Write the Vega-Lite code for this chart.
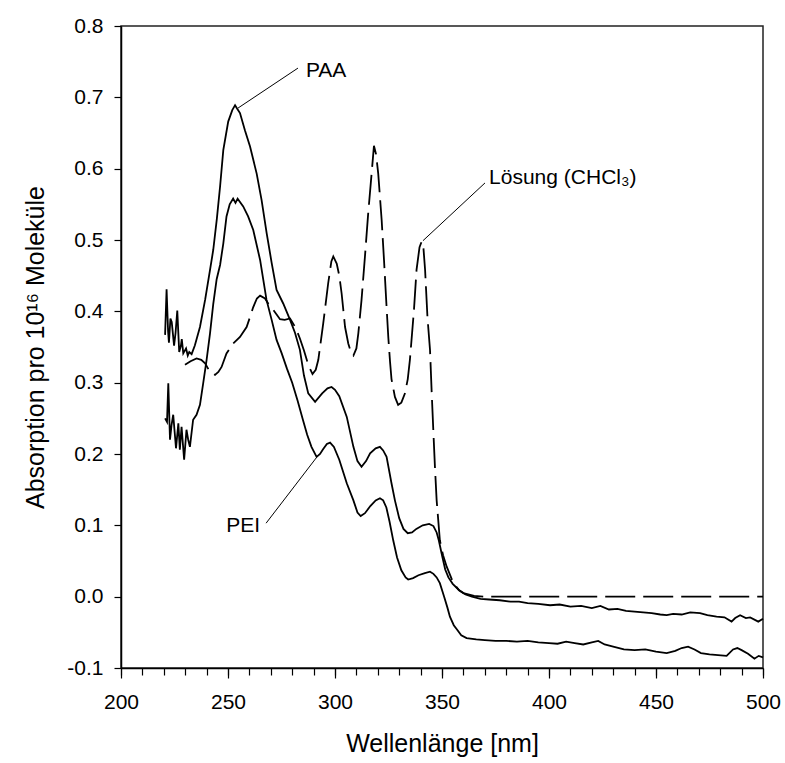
{
  "$schema": "https://vega.github.io/schema/vega-lite/v6.json",
  "width": 642,
  "height": 642,
  "autosize": {"type": "none"},
  "padding": {"left": 121, "top": 26, "right": 22, "bottom": 95},
  "background": "white",
  "config": {
    "font": "Liberation Sans",
    "view": {"stroke": "#222222", "strokeWidth": 1.5},
    "axis": {"domainColor": "black", "tickColor": "black", "labelColor": "black", "titleColor": "black", "grid": false, "labelFont": "Liberation Sans", "titleFont": "Liberation Sans", "titleFontWeight": "normal", "domainWidth": 1.5, "tickWidth": 1.2}
  },
  "datasets": {
    "curves": [
      {"s": "PAA", "nm": 220.6, "a": 0.367}, {"s": "PAA", "nm": 221.3, "a": 0.431}, {"s": "PAA", "nm": 222.0, "a": 0.372}, {"s": "PAA", "nm": 222.4, "a": 0.356}, {"s": "PAA", "nm": 223.1, "a": 0.39}, {"s": "PAA", "nm": 223.7, "a": 0.385}, {"s": "PAA", "nm": 224.8, "a": 0.352}, {"s": "PAA", "nm": 225.5, "a": 0.37}, {"s": "PAA", "nm": 226.3, "a": 0.401}, {"s": "PAA", "nm": 227.2, "a": 0.343}, {"s": "PAA", "nm": 228.0, "a": 0.352}, {"s": "PAA", "nm": 228.4, "a": 0.361}, {"s": "PAA", "nm": 229.1, "a": 0.341}, {"s": "PAA", "nm": 230.4, "a": 0.348}, {"s": "PAA", "nm": 231.2, "a": 0.338}, {"s": "PAA", "nm": 231.9, "a": 0.343}, {"s": "PAA", "nm": 233.0, "a": 0.34}, {"s": "PAA", "nm": 234.5, "a": 0.352}, {"s": "PAA", "nm": 236.9, "a": 0.378}, {"s": "PAA", "nm": 239.3, "a": 0.416}, {"s": "PAA", "nm": 241.6, "a": 0.458}, {"s": "PAA", "nm": 243.1, "a": 0.486}, {"s": "PAA", "nm": 244.8, "a": 0.53}, {"s": "PAA", "nm": 246.3, "a": 0.575}, {"s": "PAA", "nm": 247.8, "a": 0.626}, {"s": "PAA", "nm": 250.1, "a": 0.666}, {"s": "PAA", "nm": 252.0, "a": 0.682}, {"s": "PAA", "nm": 253.3, "a": 0.689}, {"s": "PAA", "nm": 254.3, "a": 0.684}, {"s": "PAA", "nm": 255.6, "a": 0.678}, {"s": "PAA", "nm": 257.9, "a": 0.654}, {"s": "PAA", "nm": 260.3, "a": 0.631}, {"s": "PAA", "nm": 263.4, "a": 0.593}, {"s": "PAA", "nm": 265.7, "a": 0.556}, {"s": "PAA", "nm": 268.1, "a": 0.509}, {"s": "PAA", "nm": 270.4, "a": 0.468}, {"s": "PAA", "nm": 272.7, "a": 0.43}, {"s": "PAA", "nm": 275.8, "a": 0.411}, {"s": "PAA", "nm": 279.0, "a": 0.388}, {"s": "PAA", "nm": 281.3, "a": 0.37}, {"s": "PAA", "nm": 283.6, "a": 0.346}, {"s": "PAA", "nm": 285.5, "a": 0.31}, {"s": "PAA", "nm": 287.5, "a": 0.285}, {"s": "PAA", "nm": 290.7, "a": 0.273}, {"s": "PAA", "nm": 294.0, "a": 0.285}, {"s": "PAA", "nm": 296.5, "a": 0.292}, {"s": "PAA", "nm": 298.4, "a": 0.294}, {"s": "PAA", "nm": 300.0, "a": 0.29}, {"s": "PAA", "nm": 302.0, "a": 0.281}, {"s": "PAA", "nm": 305.5, "a": 0.252}, {"s": "PAA", "nm": 308.6, "a": 0.21}, {"s": "PAA", "nm": 310.5, "a": 0.19}, {"s": "PAA", "nm": 312.4, "a": 0.182}, {"s": "PAA", "nm": 314.5, "a": 0.19}, {"s": "PAA", "nm": 316.4, "a": 0.201}, {"s": "PAA", "nm": 319.0, "a": 0.208}, {"s": "PAA", "nm": 321.0, "a": 0.21}, {"s": "PAA", "nm": 322.5, "a": 0.205}, {"s": "PAA", "nm": 324.1, "a": 0.196}, {"s": "PAA", "nm": 326.4, "a": 0.159}, {"s": "PAA", "nm": 328.0, "a": 0.135}, {"s": "PAA", "nm": 330.0, "a": 0.11}, {"s": "PAA", "nm": 332.0, "a": 0.095}, {"s": "PAA", "nm": 334.0, "a": 0.089}, {"s": "PAA", "nm": 336.0, "a": 0.09}, {"s": "PAA", "nm": 338.0, "a": 0.095}, {"s": "PAA", "nm": 341.0, "a": 0.1}, {"s": "PAA", "nm": 344.0, "a": 0.102}, {"s": "PAA", "nm": 346.0, "a": 0.099}, {"s": "PAA", "nm": 347.5, "a": 0.09}, {"s": "PAA", "nm": 348.5, "a": 0.079}, {"s": "PAA", "nm": 350.0, "a": 0.058}, {"s": "PAA", "nm": 351.5, "a": 0.038}, {"s": "PAA", "nm": 353.0, "a": 0.027}, {"s": "PAA", "nm": 355.0, "a": 0.018}, {"s": "PAA", "nm": 358.0, "a": 0.009}, {"s": "PAA", "nm": 361.0, "a": 0.003}, {"s": "PAA", "nm": 364.0, "a": 0.0}, {"s": "PAA", "nm": 368.0, "a": -0.003}, {"s": "PAA", "nm": 372.0, "a": -0.004}, {"s": "PAA", "nm": 377.0, "a": -0.005}, {"s": "PAA", "nm": 382.0, "a": -0.007}, {"s": "PAA", "nm": 386.0, "a": -0.007}, {"s": "PAA", "nm": 390.0, "a": -0.009}, {"s": "PAA", "nm": 395.0, "a": -0.01}, {"s": "PAA", "nm": 400.5, "a": -0.012}, {"s": "PAA", "nm": 405.0, "a": -0.011}, {"s": "PAA", "nm": 410.0, "a": -0.014}, {"s": "PAA", "nm": 415.0, "a": -0.013}, {"s": "PAA", "nm": 420.0, "a": -0.016}, {"s": "PAA", "nm": 424.0, "a": -0.013}, {"s": "PAA", "nm": 428.0, "a": -0.018}, {"s": "PAA", "nm": 432.0, "a": -0.017}, {"s": "PAA", "nm": 436.0, "a": -0.02}, {"s": "PAA", "nm": 440.0, "a": -0.021}, {"s": "PAA", "nm": 444.0, "a": -0.022}, {"s": "PAA", "nm": 448.0, "a": -0.023}, {"s": "PAA", "nm": 452.0, "a": -0.025}, {"s": "PAA", "nm": 455.0, "a": -0.026}, {"s": "PAA", "nm": 458.0, "a": -0.024}, {"s": "PAA", "nm": 462.0, "a": -0.025}, {"s": "PAA", "nm": 466.0, "a": -0.022}, {"s": "PAA", "nm": 470.6, "a": -0.023}, {"s": "PAA", "nm": 474.0, "a": -0.026}, {"s": "PAA", "nm": 478.3, "a": -0.028}, {"s": "PAA", "nm": 482.0, "a": -0.029}, {"s": "PAA", "nm": 485.3, "a": -0.035}, {"s": "PAA", "nm": 487.0, "a": -0.03}, {"s": "PAA", "nm": 489.3, "a": -0.026}, {"s": "PAA", "nm": 492.0, "a": -0.03}, {"s": "PAA", "nm": 494.0, "a": -0.029}, {"s": "PAA", "nm": 497.8, "a": -0.035}, {"s": "PAA", "nm": 500.0, "a": -0.031},

      {"s": "PEI", "nm": 220.6, "a": 0.25}, {"s": "PEI", "nm": 221.5, "a": 0.245}, {"s": "PEI", "nm": 222.1, "a": 0.299}, {"s": "PEI", "nm": 222.9, "a": 0.22}, {"s": "PEI", "nm": 223.6, "a": 0.24}, {"s": "PEI", "nm": 224.4, "a": 0.255}, {"s": "PEI", "nm": 225.7, "a": 0.208}, {"s": "PEI", "nm": 226.8, "a": 0.243}, {"s": "PEI", "nm": 227.5, "a": 0.206}, {"s": "PEI", "nm": 228.3, "a": 0.238}, {"s": "PEI", "nm": 229.5, "a": 0.192}, {"s": "PEI", "nm": 230.6, "a": 0.234}, {"s": "PEI", "nm": 231.4, "a": 0.22}, {"s": "PEI", "nm": 232.2, "a": 0.21}, {"s": "PEI", "nm": 233.7, "a": 0.248}, {"s": "PEI", "nm": 235.3, "a": 0.255}, {"s": "PEI", "nm": 236.9, "a": 0.269}, {"s": "PEI", "nm": 238.4, "a": 0.299}, {"s": "PEI", "nm": 240.0, "a": 0.332}, {"s": "PEI", "nm": 241.6, "a": 0.369}, {"s": "PEI", "nm": 243.1, "a": 0.41}, {"s": "PEI", "nm": 244.7, "a": 0.445}, {"s": "PEI", "nm": 246.3, "a": 0.465}, {"s": "PEI", "nm": 247.8, "a": 0.495}, {"s": "PEI", "nm": 249.3, "a": 0.533}, {"s": "PEI", "nm": 250.8, "a": 0.55}, {"s": "PEI", "nm": 252.4, "a": 0.558}, {"s": "PEI", "nm": 253.5, "a": 0.552}, {"s": "PEI", "nm": 254.5, "a": 0.558}, {"s": "PEI", "nm": 257.1, "a": 0.547}, {"s": "PEI", "nm": 259.4, "a": 0.533}, {"s": "PEI", "nm": 261.8, "a": 0.514}, {"s": "PEI", "nm": 263.4, "a": 0.493}, {"s": "PEI", "nm": 265.0, "a": 0.472}, {"s": "PEI", "nm": 266.5, "a": 0.444}, {"s": "PEI", "nm": 268.0, "a": 0.416}, {"s": "PEI", "nm": 270.4, "a": 0.388}, {"s": "PEI", "nm": 272.7, "a": 0.36}, {"s": "PEI", "nm": 275.1, "a": 0.341}, {"s": "PEI", "nm": 277.5, "a": 0.32}, {"s": "PEI", "nm": 280.0, "a": 0.3}, {"s": "PEI", "nm": 282.5, "a": 0.275}, {"s": "PEI", "nm": 285.0, "a": 0.248}, {"s": "PEI", "nm": 287.0, "a": 0.227}, {"s": "PEI", "nm": 289.0, "a": 0.21}, {"s": "PEI", "nm": 291.4, "a": 0.196}, {"s": "PEI", "nm": 293.0, "a": 0.2}, {"s": "PEI", "nm": 294.5, "a": 0.207}, {"s": "PEI", "nm": 296.2, "a": 0.214}, {"s": "PEI", "nm": 297.7, "a": 0.216}, {"s": "PEI", "nm": 299.5, "a": 0.21}, {"s": "PEI", "nm": 302.0, "a": 0.192}, {"s": "PEI", "nm": 305.5, "a": 0.159}, {"s": "PEI", "nm": 308.6, "a": 0.135}, {"s": "PEI", "nm": 310.5, "a": 0.118}, {"s": "PEI", "nm": 312.0, "a": 0.113}, {"s": "PEI", "nm": 314.0, "a": 0.117}, {"s": "PEI", "nm": 316.5, "a": 0.127}, {"s": "PEI", "nm": 319.0, "a": 0.135}, {"s": "PEI", "nm": 321.0, "a": 0.138}, {"s": "PEI", "nm": 322.5, "a": 0.135}, {"s": "PEI", "nm": 324.0, "a": 0.125}, {"s": "PEI", "nm": 325.5, "a": 0.105}, {"s": "PEI", "nm": 327.2, "a": 0.079}, {"s": "PEI", "nm": 329.0, "a": 0.055}, {"s": "PEI", "nm": 331.0, "a": 0.037}, {"s": "PEI", "nm": 333.0, "a": 0.027}, {"s": "PEI", "nm": 334.2, "a": 0.024}, {"s": "PEI", "nm": 336.5, "a": 0.026}, {"s": "PEI", "nm": 339.0, "a": 0.03}, {"s": "PEI", "nm": 342.0, "a": 0.033}, {"s": "PEI", "nm": 344.4, "a": 0.035}, {"s": "PEI", "nm": 346.0, "a": 0.032}, {"s": "PEI", "nm": 347.5, "a": 0.027}, {"s": "PEI", "nm": 349.0, "a": 0.019}, {"s": "PEI", "nm": 351.0, "a": 0.0}, {"s": "PEI", "nm": 352.5, "a": -0.015}, {"s": "PEI", "nm": 353.7, "a": -0.028}, {"s": "PEI", "nm": 355.5, "a": -0.04}, {"s": "PEI", "nm": 357.0, "a": -0.046}, {"s": "PEI", "nm": 359.0, "a": -0.054}, {"s": "PEI", "nm": 361.5, "a": -0.058}, {"s": "PEI", "nm": 366.0, "a": -0.06}, {"s": "PEI", "nm": 370.0, "a": -0.061}, {"s": "PEI", "nm": 375.0, "a": -0.062}, {"s": "PEI", "nm": 380.0, "a": -0.062}, {"s": "PEI", "nm": 385.0, "a": -0.063}, {"s": "PEI", "nm": 390.0, "a": -0.062}, {"s": "PEI", "nm": 395.0, "a": -0.064}, {"s": "PEI", "nm": 400.0, "a": -0.065}, {"s": "PEI", "nm": 404.0, "a": -0.066}, {"s": "PEI", "nm": 408.0, "a": -0.063}, {"s": "PEI", "nm": 412.0, "a": -0.065}, {"s": "PEI", "nm": 416.0, "a": -0.067}, {"s": "PEI", "nm": 420.0, "a": -0.064}, {"s": "PEI", "nm": 423.0, "a": -0.062}, {"s": "PEI", "nm": 426.0, "a": -0.067}, {"s": "PEI", "nm": 430.0, "a": -0.07}, {"s": "PEI", "nm": 435.0, "a": -0.074}, {"s": "PEI", "nm": 440.0, "a": -0.075}, {"s": "PEI", "nm": 445.0, "a": -0.074}, {"s": "PEI", "nm": 450.0, "a": -0.077}, {"s": "PEI", "nm": 455.0, "a": -0.079}, {"s": "PEI", "nm": 459.0, "a": -0.076}, {"s": "PEI", "nm": 462.0, "a": -0.072}, {"s": "PEI", "nm": 465.0, "a": -0.07}, {"s": "PEI", "nm": 468.0, "a": -0.074}, {"s": "PEI", "nm": 471.0, "a": -0.079}, {"s": "PEI", "nm": 475.0, "a": -0.081}, {"s": "PEI", "nm": 479.0, "a": -0.082}, {"s": "PEI", "nm": 483.0, "a": -0.083}, {"s": "PEI", "nm": 486.0, "a": -0.074}, {"s": "PEI", "nm": 488.0, "a": -0.072}, {"s": "PEI", "nm": 490.0, "a": -0.075}, {"s": "PEI", "nm": 493.0, "a": -0.08}, {"s": "PEI", "nm": 496.0, "a": -0.087}, {"s": "PEI", "nm": 498.0, "a": -0.083}, {"s": "PEI", "nm": 500.0, "a": -0.085},

      {"s": "Lösung", "nm": 229.9, "a": 0.325}, {"s": "Lösung", "nm": 232.5, "a": 0.33}, {"s": "Lösung", "nm": 235.3, "a": 0.334}, {"s": "Lösung", "nm": 237.5, "a": 0.332}, {"s": "Lösung", "nm": 239.3, "a": 0.327}, {"s": "Lösung", "nm": 241.6, "a": 0.315}, {"s": "Lösung", "nm": 243.9, "a": 0.311}, {"s": "Lösung", "nm": 245.5, "a": 0.315}, {"s": "Lösung", "nm": 247.0, "a": 0.322}, {"s": "Lösung", "nm": 249.3, "a": 0.341}, {"s": "Lösung", "nm": 252.4, "a": 0.355}, {"s": "Lösung", "nm": 255.6, "a": 0.364}, {"s": "Lösung", "nm": 258.7, "a": 0.378}, {"s": "Lösung", "nm": 260.3, "a": 0.392}, {"s": "Lösung", "nm": 261.8, "a": 0.406}, {"s": "Lösung", "nm": 263.5, "a": 0.418}, {"s": "Lösung", "nm": 265.0, "a": 0.422}, {"s": "Lösung", "nm": 267.3, "a": 0.418}, {"s": "Lösung", "nm": 269.6, "a": 0.407}, {"s": "Lösung", "nm": 271.2, "a": 0.402}, {"s": "Lösung", "nm": 274.3, "a": 0.389}, {"s": "Lösung", "nm": 276.5, "a": 0.388}, {"s": "Lösung", "nm": 279.0, "a": 0.39}, {"s": "Lösung", "nm": 281.0, "a": 0.38}, {"s": "Lösung", "nm": 282.0, "a": 0.374}, {"s": "Lösung", "nm": 283.6, "a": 0.362}, {"s": "Lösung", "nm": 285.5, "a": 0.345}, {"s": "Lösung", "nm": 287.5, "a": 0.325}, {"s": "Lösung", "nm": 289.5, "a": 0.312}, {"s": "Lösung", "nm": 291.0, "a": 0.318}, {"s": "Lösung", "nm": 292.2, "a": 0.332}, {"s": "Lösung", "nm": 294.5, "a": 0.383}, {"s": "Lösung", "nm": 296.8, "a": 0.439}, {"s": "Lösung", "nm": 298.3, "a": 0.47}, {"s": "Lösung", "nm": 299.2, "a": 0.477}, {"s": "Lösung", "nm": 300.8, "a": 0.467}, {"s": "Lösung", "nm": 302.0, "a": 0.45}, {"s": "Lösung", "nm": 303.1, "a": 0.425}, {"s": "Lösung", "nm": 304.7, "a": 0.378}, {"s": "Lösung", "nm": 306.2, "a": 0.355}, {"s": "Lösung", "nm": 307.5, "a": 0.342}, {"s": "Lösung", "nm": 308.6, "a": 0.338}, {"s": "Lösung", "nm": 310.0, "a": 0.348}, {"s": "Lösung", "nm": 310.9, "a": 0.369}, {"s": "Lösung", "nm": 312.4, "a": 0.416}, {"s": "Lösung", "nm": 314.0, "a": 0.477}, {"s": "Lösung", "nm": 315.5, "a": 0.537}, {"s": "Lösung", "nm": 317.1, "a": 0.593}, {"s": "Lösung", "nm": 318.2, "a": 0.632}, {"s": "Lösung", "nm": 319.2, "a": 0.62}, {"s": "Lösung", "nm": 320.2, "a": 0.593}, {"s": "Lösung", "nm": 321.8, "a": 0.528}, {"s": "Lösung", "nm": 322.9, "a": 0.472}, {"s": "Lösung", "nm": 324.1, "a": 0.406}, {"s": "Lösung", "nm": 324.9, "a": 0.364}, {"s": "Lösung", "nm": 325.7, "a": 0.33}, {"s": "Lösung", "nm": 326.4, "a": 0.305}, {"s": "Lösung", "nm": 328.0, "a": 0.28}, {"s": "Lösung", "nm": 329.5, "a": 0.269}, {"s": "Lösung", "nm": 331.0, "a": 0.272}, {"s": "Lösung", "nm": 332.7, "a": 0.285}, {"s": "Lösung", "nm": 334.0, "a": 0.305}, {"s": "Lösung", "nm": 335.0, "a": 0.332}, {"s": "Lösung", "nm": 336.9, "a": 0.402}, {"s": "Lösung", "nm": 338.1, "a": 0.458}, {"s": "Lösung", "nm": 339.5, "a": 0.49}, {"s": "Lösung", "nm": 340.5, "a": 0.498}, {"s": "Lösung", "nm": 341.3, "a": 0.49}, {"s": "Lösung", "nm": 342.1, "a": 0.458}, {"s": "Lösung", "nm": 343.2, "a": 0.392}, {"s": "Lösung", "nm": 344.4, "a": 0.346}, {"s": "Lösung", "nm": 345.2, "a": 0.285}, {"s": "Lösung", "nm": 346.0, "a": 0.229}, {"s": "Lösung", "nm": 346.7, "a": 0.182}, {"s": "Lösung", "nm": 347.5, "a": 0.135}, {"s": "Lösung", "nm": 349.0, "a": 0.079}, {"s": "Lösung", "nm": 350.5, "a": 0.058}, {"s": "Lösung", "nm": 352.2, "a": 0.042}, {"s": "Lösung", "nm": 355.3, "a": 0.019}, {"s": "Lösung", "nm": 358.0, "a": 0.009}, {"s": "Lösung", "nm": 360.0, "a": 0.005}, {"s": "Lösung", "nm": 365.0, "a": 0.001}, {"s": "Lösung", "nm": 370.0, "a": 0.0}, {"s": "Lösung", "nm": 500.0, "a": 0.0}
    ],
    "leaders": [
      {"s": "PAA", "x1": 254.7, "y1": 0.685, "x2": 282.7, "y2": 0.741},
      {"s": "Lösung", "x1": 341.1, "y1": 0.499, "x2": 370.1, "y2": 0.58},
      {"s": "PEI", "x1": 291.6, "y1": 0.196, "x2": 267.8, "y2": 0.103}
    ],
    "labels": [
      {"t": "PAA", "x": 286.4, "y": 0.737, "al": "left"},
      {"t": "Lösung (CHCl₃)", "x": 372.0, "y": 0.587, "al": "left"},
      {"t": "PEI", "x": 265.0, "y": 0.099, "al": "right"}
    ]
  },
  "layer": [
    {
      "data": {"name": "curves"},
      "transform": [{"filter": "datum.s !== 'Lösung'"}],
      "mark": {"type": "line", "color": "black", "strokeWidth": 1.8, "interpolate": "linear"},
      "encoding": {
        "x": {"field": "nm", "type": "quantitative",
              "scale": {"domain": [200, 500], "nice": false, "zero": false},
              "axis": {"orient": "bottom", "values": [200, 250, 300, 350, 400, 450, 500], "tickSize": 10, "labelFontSize": 21, "labelPadding": 13, "title": "Wellenlänge [nm]", "titleFontSize": 25, "titlePadding": 19, "labelFlush": false}},
        "y": {"field": "a", "type": "quantitative",
              "scale": {"domain": [-0.1, 0.8], "nice": false, "zero": false},
              "axis": {"values": [-0.1, 0.0, 0.1, 0.2, 0.3, 0.4, 0.5, 0.6, 0.7, 0.8], "labelExpr": "replace(format(datum.value, '.1f'), '\u2212', '-')", "tickSize": 7, "labelFontSize": 21, "labelPadding": 11, "title": "Absorption pro 10¹⁶ Moleküle", "titleFontSize": 25, "titlePadding": 18, "labelFlush": false}},
        "detail": {"field": "s", "type": "nominal"}
      }
    },
    {
      "data": {"name": "curves"},
      "transform": [{"filter": "datum.s === 'Lösung'"}],
      "mark": {"type": "line", "color": "black", "strokeWidth": 1.8, "strokeDash": [30, 8]},
      "encoding": {
        "x": {"field": "nm", "type": "quantitative", "axis": null},
        "y": {"field": "a", "type": "quantitative"}
      }
    },
    {
      "data": {"name": "leaders"},
      "mark": {"type": "rule", "color": "black", "strokeWidth": 1},
      "encoding": {
        "x": {"field": "x1", "type": "quantitative",
              "axis": {"orient": "bottom", "values": [200, 210, 220, 230, 240, 250, 260, 270, 280, 290, 300, 310, 320, 330, 340, 350, 360, 370, 380, 390, 400, 410, 420, 430, 440, 450, 460, 470, 480, 490, 500], "tickSize": 7, "labels": false, "domain": false, "title": null}},
        "y": {"field": "y1", "type": "quantitative"},
        "x2": {"field": "x2"},
        "y2": {"field": "y2"}
      }
    },
    {
      "data": {"name": "labels"},
      "transform": [{"filter": "datum.al === 'left'"}],
      "mark": {"type": "text", "color": "black", "fontSize": 21, "baseline": "middle", "align": "left", "font": "Liberation Sans"},
      "encoding": {
        "x": {"field": "x", "type": "quantitative", "axis": null},
        "y": {"field": "y", "type": "quantitative"},
        "text": {"field": "t"}
      }
    },
    {
      "data": {"name": "labels"},
      "transform": [{"filter": "datum.al === 'right'"}],
      "mark": {"type": "text", "color": "black", "fontSize": 21, "baseline": "middle", "align": "right", "font": "Liberation Sans"},
      "encoding": {
        "x": {"field": "x", "type": "quantitative", "axis": null},
        "y": {"field": "y", "type": "quantitative"},
        "text": {"field": "t"}
      }
    }
  ],
  "resolve": {"axis": {"x": "independent"}}
}
